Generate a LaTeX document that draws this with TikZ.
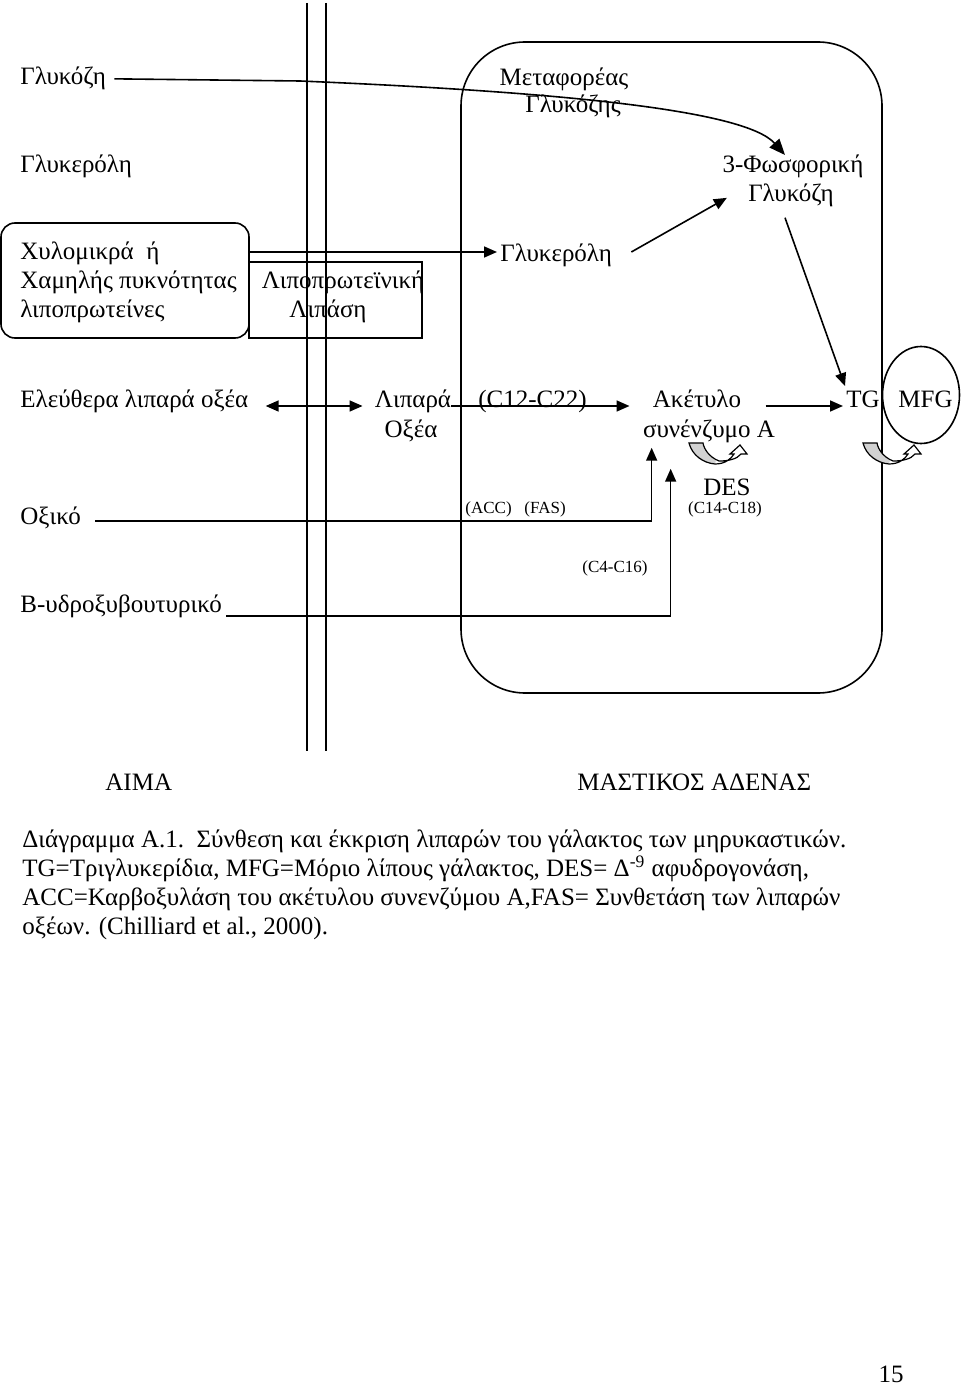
\documentclass[tikz,border=0pt]{standalone}
\usepackage{fontspec}
\setmainfont{Liberation Serif}
\usetikzlibrary{arrows.meta,calc,shapes.geometric}
\newcommand{\mainsz}{\fontsize{12.5pt}{14.5pt}\selectfont}
\newcommand{\smallsz}{\fontsize{8.5pt}{10pt}\selectfont}
\tikzset{
  lbl/.style={font=\mainsz, inner sep=0pt, anchor=base west},
  lblc/.style={font=\mainsz, inner sep=0pt, anchor=base},
  sml/.style={font=\smallsz, inner sep=0pt, anchor=base west},
  smlc/.style={font=\smallsz, inner sep=0pt, anchor=base},
  ln/.style={line width=0.8pt},
  arr/.style={ln, -{Triangle[length=6.5pt,width=5.5pt]}},
  bigarr/.style={ln, -{Triangle[length=8pt,width=6.5pt]}},
  dblarr/.style={ln, {Triangle[length=6.5pt,width=5.5pt]}-{Triangle[length=6.5pt,width=5.5pt]}},
  curlyarr/.pic={
    \fill[gray!35] (0,0) .. controls (3,12) and (14,20) .. (26,21) -- (27,17) .. controls (19,13) and (15,6) .. (14,0) -- cycle;
    \draw[line width=0.6pt] (0,0) .. controls (3,12) and (14,20) .. (26,21) .. controls (36,21) and (42,16) .. (45,11) -- (41,11) -- (51,2) -- (58,11) -- (52,11) .. controls (48,16) and (40,18) .. (30,18) .. controls (20,14) and (15,6) .. (14,0) -- cycle;
  }
}
\begin{document}
\begin{tikzpicture}[x=0.5pt,y=-0.5pt]
\useasboundingbox (0,0) rectangle (960,1385);
% levels
\coordinate (yG) at (0,252);
\coordinate (yFA) at (0,406);
\coordinate (yOx) at (0,521);
\coordinate (yBhb) at (0,616);
% membranes and cell
\draw[ln] (307,3) coordinate (m1t) -- (307,751) coordinate (m1b);
\draw[ln] (326,3) coordinate (m2t) -- (326,751) coordinate (m2b);
\draw[ln, rounded corners=32pt] (461,42) rectangle (882,693);
\node[draw, line width=0.8pt, rounded corners=7pt, minimum width=124pt, minimum height=57.5pt, inner sep=0pt] (chybox) at (125,280.5) {};
\node[draw, line width=0.8pt, minimum width=86.5pt, minimum height=38pt, inner sep=0pt] (lplbox) at (335.5,300) {};
\node[draw, line width=0.8pt, ellipse, minimum width=38.5pt, minimum height=48.5pt, inner sep=0pt] (mfgell) at (921,395) {};
% texts
\node[lbl] (glc) at (20,85) {Γλυκόζη};
\node[lbl] (glyL) at (20,173) {Γλυκερόλη};
\node[lbl] (chy1) at (20,260) {Χυλομικρά \ ή};
\node[lbl] (chy2) at (20,289) {Χαμηλής πυκνότητας};
\node[lbl] (chy3) at (20,318) {λιποπρωτείνες};
\node[lblc] (lpl1) at (343,289) {Λιποπρωτεϊνική};
\node[lblc] (lpl2) at (328,318) {Λιπάση};
\node[lblc] (mt1) at (564,86) {Μεταφορέας};
\node[lblc] (mt2) at (573,113) {Γλυκόζης};
\node[lblc] (g3p1) at (793,173) {3-Φωσφορική};
\node[lblc] (g3p2) at (791,202) {Γλυκόζη};
\node[lbl] (glyR) at (500,262) {Γλυκερόλη};
\node[lbl] (ffa) at (20,408) {Ελεύθερα λιπαρά οξέα};
\node[lblc] (fa1) at (413,408) {Λιπαρά};
\node[lblc] (fa2) at (411,437) {Οξέα};
\node[lbl] (c1222) at (478,408) {(C12-C22)};
\node[lblc] (aco1) at (697,407) {Ακέτυλο};
\node[lblc] (aco2) at (709,437) {συνένζυμο Α};
\node[lbl] (tg) at (846,408) {TG};
\node[lbl] (mfg) at (898,408) {MFG};
\node[lblc] (des) at (727,495) {DES};
\node[smlc] (c1418) at (725,513) {(C14-C18)};
\node[sml] (accfas) at (465,513) {(ACC)\ \ \ (FAS)};
\node[sml] (c416) at (582,572) {(C4-C16)};
\node[lbl] (oxi) at (20,524) {Οξικό};
\node[lbl] (bhb) at (20,612) {Β-υδροξυβουτυρικό};
\node[lbl] (aima) at (105,790) {ΑΙΜΑ};
\node[lbl] (mast) at (577,790) {ΜΑΣΤΙΚΟΣ ΑΔΕΝΑΣ};
\node[lbl] (cap1) at (22,847) {Διάγραμμα Α.1.\ \ Σύνθεση και έκκριση λιπαρών του γάλακτος των μηρυκαστικών.};
\node[lbl] (cap2) at (22,876) {TG=Τριγλυκερίδια, MFG=Μόριο λίπους γάλακτος, DES= Δ\textsuperscript{-9} αφυδρογονάση,};
\node[lbl] (cap3) at (22,905) {ACC=Καρβοξυλάση του ακέτυλου συνενζύμου Α,FAS= Συνθετάση των λιπαρών};
\node[lbl] (cap4) at (22,934) {οξέων. (Chilliard et al., 2000).};
\node[lblc] (pg) at (891,1382) {15};
% connectors
\draw[bigarr] ($(glc.east)+(8,0)$) -- (300,81) .. controls (560,92) and (745,110) .. ($(g3p1.base)+(-8,-18)$);
\draw[arr] (chybox.east |- yG) -- ($(glyR.west |- yG)+(-3,0)$);
\draw[arr] ($(glyR.east |- yG)+(19,0)$) -- ($(g3p2.west)+(-21,2)$);
\draw[arr] ($(g3p2.south)+(-6,10)$) -- ($(tg.north west)+(-1,-5)$);
\draw[dblarr] ($(ffa.east |- yFA)+(17,0)$) -- ($(fa1.west |- yFA)+(-12,0)$);
\draw[arr] (fa1.east |- yFA) -- ($(aco1.west |- yFA)+(-23,0)$);
\draw[arr] ($(aco1.east |- yFA)+(24,0)$) -- ($(tg.west |- yFA)+(-3,0)$);
\draw[arr] ($(oxi.east |- yOx)+(14,0)$) -| ($(aco2.south west)+(9,5)$);
\draw[arr] ($(bhb.east |- yBhb)+(4,0)$) -| ($(aco2.south west)+(28,26)$);
\pic at (689,443) {curlyarr};
\pic at (863,443) {curlyarr};
\end{tikzpicture}
\end{document}
